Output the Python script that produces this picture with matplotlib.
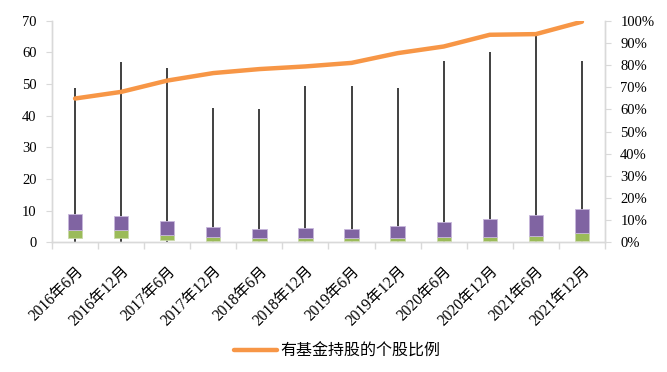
import matplotlib
matplotlib.use("Agg")
import matplotlib.pyplot as plt
import numpy as np
from matplotlib.ticker import FixedLocator, PercentFormatter

categories = ["2016年6月", "2016年12月", "2017年6月", "2017年12月", "2018年6月", "2018年12月",
              "2019年6月", "2019年12月", "2020年6月", "2020年12月", "2021年6月", "2021年12月"]
whisker_min = [0.0, 0.0, 0.0, 0.0, 0.0, 0.0, 0.0, 0.0, 0.0, 0.0, 0.0, 0.0]
whisker_max = [48.6, 57.0, 55.0, 42.5, 42.0, 49.5, 49.5, 48.8, 57.2, 60.0, 66.4, 57.2]
q1 = [1.3, 1.3, 0.7, 0.3, 0.3, 0.3, 0.3, 0.3, 0.3, 0.3, 0.3, 0.3]
median = [3.9, 3.7, 2.2, 1.6, 1.2, 1.2, 1.4, 1.4, 1.7, 1.7, 2.0, 3.0]
q3 = [9.0, 8.2, 6.7, 4.8, 4.3, 4.4, 4.1, 5.0, 6.5, 7.2, 8.5, 10.6]
share_pct = [64.9, 67.9, 73.0, 76.4, 78.2, 79.4, 81.0, 85.4, 88.4, 93.7, 94.0, 99.6]

serif_cjk = ["Liberation Serif", "Noto Sans CJK SC"]
plt.rcParams["font.family"] = serif_cjk

fig = plt.figure(figsize=(6.67, 3.72), dpi=100)
ax = fig.add_axes([0.078, 0.349, 0.829, 0.595])
ax2 = ax.twinx()

x = np.arange(len(categories))
q1a = np.array(q1); meda = np.array(median); q3a = np.array(q3)

ax.vlines(x, whisker_min, whisker_max, color="#404040", lw=1.4, zorder=2)
bw = 0.31
ax.bar(x, meda - q1a, bottom=q1a, width=bw, color="#9BBB59", edgecolor="#c9d9a8", lw=0.6, zorder=3)
ax.bar(x, q3a - meda, bottom=meda, width=bw, color="#8064A2", edgecolor="#c8b8dc", lw=0.6, zorder=3)

ax2.plot(x, share_pct, color="#F79646", lw=3.2, solid_capstyle="round", zorder=4,
         label="有基金持股的个股比例")

ax.set_xlim(-0.5, len(categories) - 0.5)
ax.set_ylim(0, 70)
ax2.set_ylim(0, 100)
ax.set_yticks(np.arange(0, 71, 10))
ax2.set_yticks(np.arange(0, 101, 10))
ax2.yaxis.set_major_formatter(PercentFormatter(decimals=0))

ax.set_xticks(x)
ax.set_xticklabels(categories, rotation=45, ha="right", rotation_mode="anchor", fontsize=11.2)
ax.xaxis.set_minor_locator(FixedLocator(np.arange(-0.5, len(categories), 1.0)))
ax.tick_params(axis="x", which="major", length=0, pad=15)
ax.tick_params(axis="x", which="minor", length=5, color="#d9d9d9", width=1)

gray = "#d9d9d9"
for a in (ax, ax2):
    a.spines["top"].set_visible(False)
    for s in ("left", "right", "bottom"):
        a.spines[s].set_color(gray)
        a.spines[s].set_linewidth(1)
ax.tick_params(axis="y", length=4, color=gray, labelsize=10.5, pad=7)
ax2.tick_params(axis="y", length=4, color=gray, labelsize=10.5, pad=7)

leg = fig.legend(handles=ax2.get_lines(), loc="center", bbox_to_anchor=(0.505, 0.054),
                 frameon=False, fontsize=11.5, handlelength=2.7, handletextpad=0.2)

fig.savefig("out.png", dpi=100)
